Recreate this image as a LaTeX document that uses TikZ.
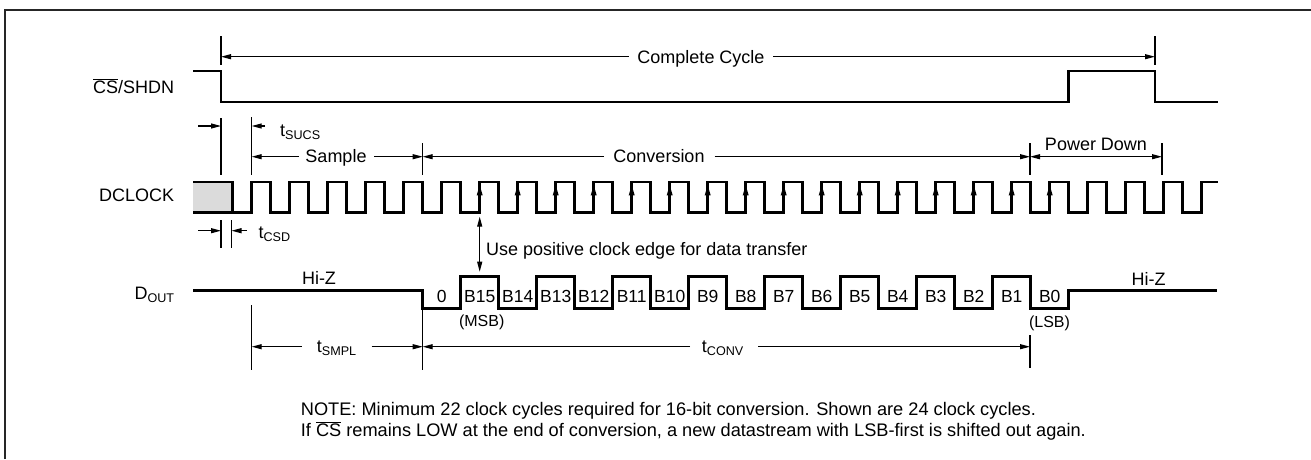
\documentclass[tikz,border=0pt]{standalone}
\usepackage{fontspec}
\setmainfont{Liberation Sans}
\usetikzlibrary{arrows.meta}
\newcommand\mysub[1]{\raisebox{-3.3pt}{\fontsize{12.6}{14}\selectfont #1}}
\newcommand\lblfont{\fontsize{18}{21}\selectfont}
\newcommand\bitfont{\fontsize{17.5}{20}\selectfont}
\newcommand\smallfont{\fontsize{16}{18}\selectfont}
\newcommand\notefont{\fontsize{18.2}{21}\selectfont}
\begin{document}
\begin{tikzpicture}[x=1pt,y=-1pt,
  sig/.style={line width=2.6pt},
  thinln/.style={line width=1.1pt},
  tip/.tip={Triangle[length=10pt,width=5pt]},
  arr/.style={thinln,-tip},
  dblarr/.style={thinln,tip-tip},
  txt/.style={inner sep=0pt,anchor=base,font=\lblfont},
  bit/.style={inner sep=0pt,anchor=base,font=\bitfont},
  sml/.style={inner sep=0pt,anchor=base,font=\smallfont},
  note/.style={inner sep=0pt,anchor=base west,font=\notefont}]
\useasboundingbox (0,0) rectangle (1311,459);
% frame
\draw[line width=2.4pt,color=black!85] (5,459) -- (5,10) -- (1311,10);

% signal names
\node[txt,anchor=base east] (csname) at (174.3,93.5) {$\overline{\hbox{CS}}$/SHDN};
\node[txt,anchor=base east] (clkname) at (174.3,201) {DCLOCK};
\node[txt,anchor=base east] (doutname) at (174.3,299.3) {D\mysub{OUT}};

% complete cycle
\draw[thinln] (221,36) -- (221,65);
\draw[thinln] (1155,36) -- (1155,65);
\node[txt] (cc) at (701,63) {Complete Cycle};
\draw[arr] (628.5,56.7) -- (221,56.7);
\draw[arr] (773.3,56.7) -- (1155,56.7);

% CS signal
\draw[sig] (193.3,71) -- (221,71) -- (221,102) -- (1068.7,102) -- (1068.7,71) -- (1155,71) -- (1155,102) -- (1218.3,102);

% tSUCS
\draw[thinln] (221,118) -- (221,175);
\draw[thinln] (251.7,117) -- (251.7,175);
\draw[arr] (198,126) -- (221,126);
\draw[arr] (265,126) -- (251.7,126);
\node[txt,anchor=base west] (tsucs) at (280,136.5) {t\mysub{SUCS}};

% Sample / Conversion / Power Down
\node[txt] (smp) at (336,162.5) {Sample};
\draw[arr] (299,156.7) -- (251.7,156.7);
\draw[arr] (374,156.7) -- (422.7,156.7);
\draw[thinln] (422.7,143) -- (422.7,175);
\node[txt] (conv) at (659,162.5) {Conversion};
\draw[arr] (604,156.7) -- (422.7,156.7);
\draw[arr] (714.5,156.7) -- (1030,156.7);
\draw[thinln] (1030,143) -- (1030,175);
\draw[dblarr] (1030,156.7) -- (1162,156.7);
\draw[thinln] (1162,143) -- (1162,175);
\node[txt] (pd) at (1096,150) {Power Down};

% DCLOCK
\fill[gray!28] (193.3,182) rectangle (232.7,212.3);
\draw[sig] (193.3,212.3) -- (232.7,212.3);
\draw[sig] (193.3,182)
  foreach \k in {0,...,25} {
    -- ({232.7+38*\k},182) -- ({232.7+38*\k},212.3)
    -- ({251.7+38*\k},212.3) -- ({251.7+38*\k},182) }
  -- (1218.3,182);
\foreach \k in {6,...,21}
  \fill ({251.7+38*\k},185.3) -- ++(-3,10) -- ++(6,0) -- cycle;

% tCSD
\draw[thinln] (221,220) -- (221,248.3);
\draw[thinln] (231.5,220) -- (231.5,248.3);
\draw[arr] (198,230.7) -- (221,230.7);
\draw[arr] (246.7,230.7) -- (231.5,230.7);
\node[txt,anchor=base west] (tcsd) at (258.3,238.3) {t\mysub{CSD}};

% use positive clock edge
\draw[dblarr] (479.7,216.7) -- (479.7,271.7);
\node[txt,anchor=base west] (usepos) at (486,255) {Use positive clock edge for data transfer};

% DOUT
\draw[sig] (193.3,290.7) -- (422.7,290.7) -- (422.7,308.3)
  foreach \m in {0,...,7} {
    -- ({460.7+76*\m},308.3) -- ({460.7+76*\m},276.7)
    -- ({498.7+76*\m},276.7) -- ({498.7+76*\m},308.3) }
  -- (1068.7,308.3) -- (1068.7,290.7) -- (1216.7,290.7);
\node[txt] (hiz1) at (319,284) {Hi-Z};
\node[txt] (hiz2) at (1148.7,285) {Hi-Z};
\node[bit] (b0cell) at (441.7,302.5) {0};
\foreach \j/\t in {1/B15,2/B14,3/B13,4/B12,5/B11,6/B10,7/B9,8/B8,9/B7,10/B6,11/B5,12/B4,13/B3,14/B2,15/B1,16/B0}
  \node[bit] (bit\j) at ({441.7+38*\j},302.5) {\t};
\node[sml] (msb) at (481.7,326.5) {(MSB)};
\node[sml] (lsb) at (1049.5,327) {(LSB)};

% tSMPL / tCONV
\draw[thinln] (251.7,305) -- (251.7,370);
\draw[thinln] (422.7,308) -- (422.7,370);
\draw[arr] (301.7,346.7) -- (251.7,346.7);
\draw[arr] (371.7,346.7) -- (422.7,346.7);
\node[txt,anchor=base west] (tsmpl) at (316.7,352.5) {t\mysub{SMPL}};
\draw[arr] (690,346.7) -- (422.7,346.7);
\draw[arr] (758,346.7) -- (1030,346.7);
\draw[thinln] (1030,335) -- (1030,368.3);
\node[txt,anchor=base west] (tconv) at (701.7,352.5) {t\mysub{CONV}};

% note
\node[note] (n1) at (300.7,415) {NOTE: Minimum 22 clock cycles required for 16-bit conversion. Shown are 24 clock cycles.};
\node[note] (n2) at (300.7,436.7) {If $\overline{\hbox{CS}}$ remains LOW at the end of conversion, a new datastream with LSB-first is shifted out again.};
\end{tikzpicture}
\end{document}
